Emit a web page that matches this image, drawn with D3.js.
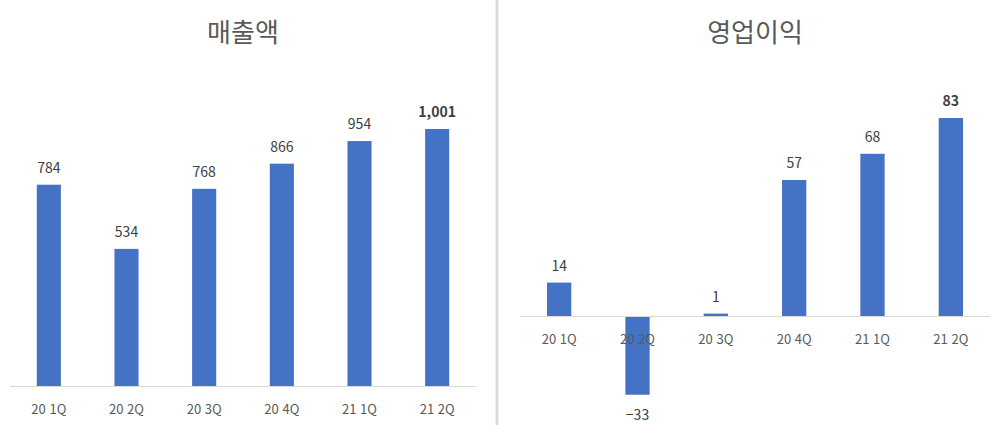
<!DOCTYPE html>
<html lang="ko">
<head>
<meta charset="utf-8">
<style>
  body { margin: 0; background: #fff; }
  text { font-family: "Noto Sans CJK KR", "Noto Sans", sans-serif; }
</style>
</head>
<body>
<svg id="chart" width="1000" height="425"></svg>
<script src="https://cdn.jsdelivr.net/npm/d3@7"></script>
<script>
var quarters = ["20 1Q", "20 2Q", "20 3Q", "20 4Q", "21 1Q", "21 2Q"];
var sales = [784, 534, 768, 866, 954, 1001];
var profit = [14, -33, 1, 57, 68, 83];

var svg = d3.select("#chart");
var barColor = "#4472C4";
var fmt = d3.format(",");

// divider between the two charts
svg.append("rect").attr("x", 495.5).attr("y", 0).attr("width", 3).attr("height", 425).attr("fill", "#d9d9d9");

function drawPanel(opt) {
  var x = d3.scaleBand().domain(quarters).range([opt.x0, opt.x1]).paddingInner(0.69).paddingOuter(0.345);
  var y = d3.scaleLinear().domain(opt.domain).range(opt.range);
  var g = svg.append("g");

  g.append("text").attr("x", (opt.x0 + opt.x1) / 2).attr("y", 42)
    .attr("text-anchor", "middle").attr("font-size", 26).attr("fill", "#595959").text(opt.title);

  g.selectAll("rect.bar").data(opt.values).enter().append("rect")
    .attr("class", "bar")
    .attr("x", function(d, i) { return x(quarters[i]); })
    .attr("width", x.bandwidth())
    .attr("y", function(d) { return Math.min(y(d), y(0)); })
    .attr("height", function(d) { return Math.abs(y(d) - y(0)); })
    .attr("fill", barColor);

  g.append("line").attr("x1", opt.x0).attr("x2", opt.x1)
    .attr("y1", y(0) + 0.5).attr("y2", y(0) + 0.5).attr("stroke", "#d9d9d9");

  g.selectAll("text.val").data(opt.values).enter().append("text")
    .attr("class", "val")
    .attr("x", function(d, i) { return x(quarters[i]) + x.bandwidth() / 2; })
    .attr("y", function(d) { return d >= 0 ? y(d) - 12 : y(d) + 25; })
    .attr("text-anchor", "middle").attr("font-size", 14).attr("fill", "#404040")
    .attr("font-weight", function(d, i) { return i === opt.values.length - 1 ? "bold" : "normal"; })
    .text(function(d) { return fmt(d); });

  g.selectAll("text.cat").data(quarters).enter().append("text")
    .attr("class", "cat")
    .attr("x", function(d) { return x(d) + x.bandwidth() / 2; })
    .attr("y", y(0) + 28)
    .attr("text-anchor", "middle").attr("font-size", 13).attr("fill", "#595959")
    .text(function(d) { return d; });
}

drawPanel({ title: "매출액", values: sales, x0: 10, x1: 476, domain: [0, 1001], range: [386, 129] });
drawPanel({ title: "영업이익", values: profit, x0: 520, x1: 990, domain: [0, 83], range: [316, 118] });
</script>
</body>
</html>
